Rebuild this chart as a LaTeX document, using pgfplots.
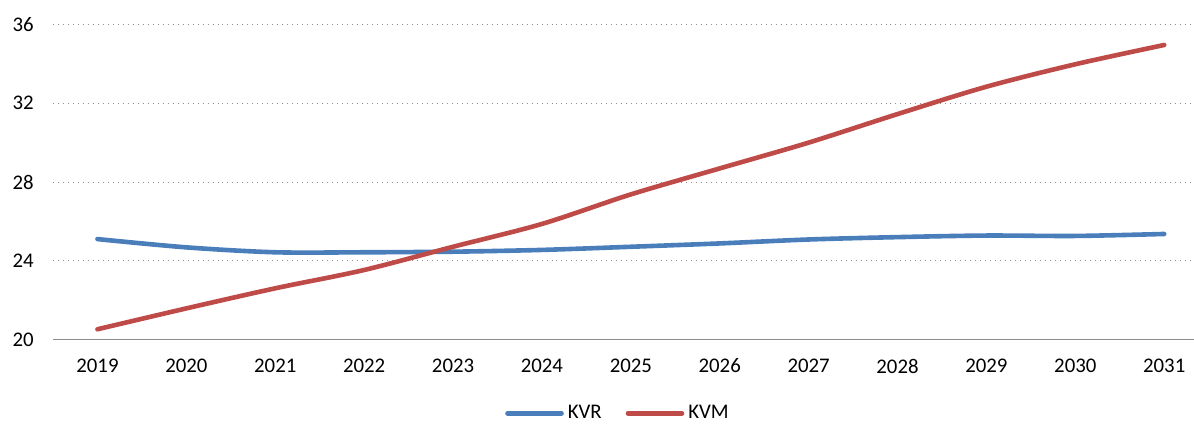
\documentclass[border=0pt]{standalone}
\usepackage{fontspec}
\setmainfont{Carlito}
\usepackage{pgfplots}
\pgfplotsset{compat=1.18}
\definecolor{kvr}{HTML}{4A7EBB}
\definecolor{kvm}{HTML}{BE4B48}
\definecolor{gridc}{HTML}{8C8C8C}
\begin{document}
\fontsize{10.4bp}{12bp}\selectfont
\begin{tikzpicture}
\begin{axis}[
  scale only axis,
  width=570.5bp, height=157.5bp,
  xmin=-0.5, xmax=12.335,
  ymin=20, ymax=36,
  ytick={20,24,28,32,36},
  xtick={0,...,12},
  xticklabels={2019,2020,2021,2022,2023,2024,2025,2026,2027,2028,2029,2030,2031},
  axis x line*=bottom,
  axis y line*=left,
  y axis line style={draw=none},
  x axis line style={draw=gridc, line width=0.7bp, -},
  major tick length=0pt,
  ymajorgrids,
  grid style={draw=gridc, line width=0.5bp, dotted},
  /pgf/number format/assume math mode=true,
  ticklabel style={font=\fontsize{10.4bp}{12bp}\selectfont, text=black},
  yticklabel style={xshift=-6bp},
  xticklabel style={yshift=-6bp},
  clip=false,
  legend columns=2,
  legend style={draw=none, fill=none, at={(0.496,-0.234)}, anchor=center,
    font=\fontsize{10.4bp}{12bp}\selectfont,
    /tikz/every even column/.append style={column sep=10bp},
    inner sep=0pt},
  legend image code/.code={\draw[#1, line cap=round] (0bp,0bp) -- (27bp,0bp);},
  every axis plot/.append style={line width=2.3bp, line cap=round, smooth, tension=0.5, mark=none},
]
\addplot[color=kvr] coordinates {
(0,25.10) (1,24.68) (2,24.43) (3,24.43) (4,24.46) (5,24.55) (6,24.71)
(7,24.88) (8,25.08) (9,25.20) (10,25.28) (11,25.26) (12,25.36)};
\addlegendentry{KVR}
\addplot[color=kvm] coordinates {
(0,20.52) (1,21.58) (2,22.60) (3,23.53) (4,24.71) (5,25.87) (6,27.37)
(7,28.69) (8,30.00) (9,31.45) (10,32.84) (11,33.98) (12,34.96)};
\addlegendentry{KVM}
\end{axis}
\pgfresetboundingbox
\path ([xshift=-26.5bp,yshift=-42.25bp]current axis.south west) rectangle ([yshift=12.25bp]current axis.north east);
\end{tikzpicture}
\end{document}
